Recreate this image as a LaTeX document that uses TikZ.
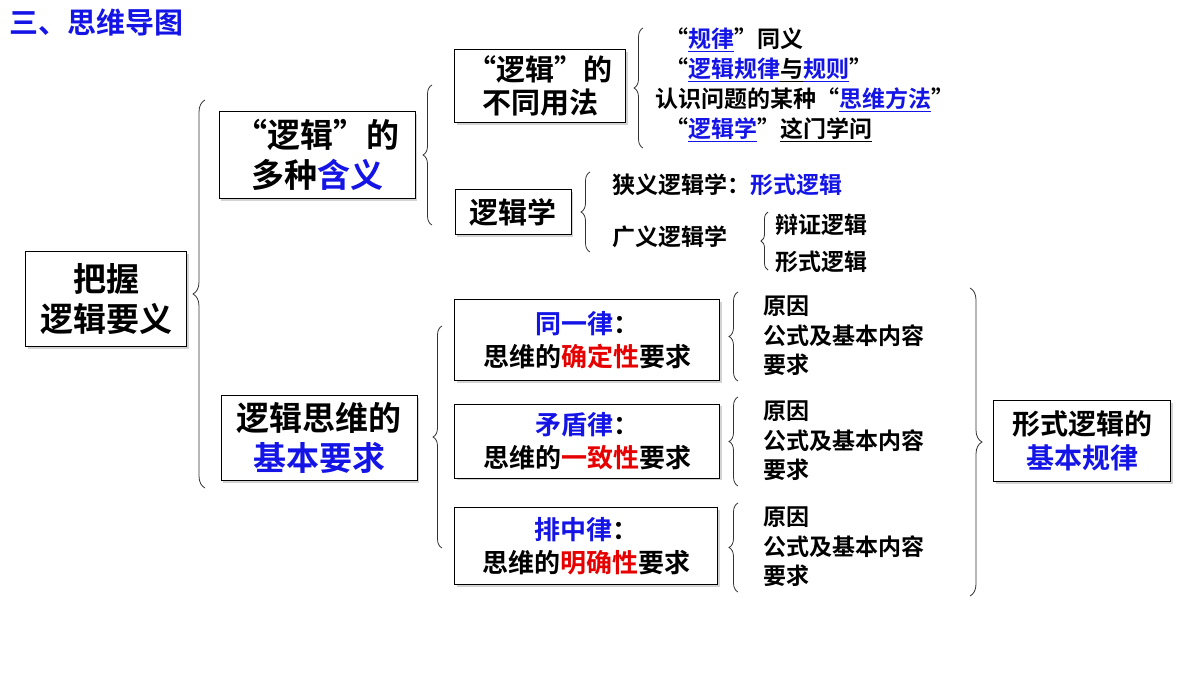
\documentclass[tikz,border=0pt]{standalone}
\usepackage{fontspec}
\setmainfont{Noto Sans CJK SC}[BoldFont={Noto Sans CJK SC Bold}]
\usetikzlibrary{decorations.pathreplacing,shadows}
\definecolor{tblue}{RGB}{20,20,230}
\definecolor{tred}{RGB}{230,0,0}
\newcommand{\bl}[1]{\textcolor{tblue}{#1}}
\newcommand{\rd}[1]{\textcolor{tred}{#1}}
\newcommand{\ul}[1]{\underline{#1}}
\tikzset{
  mapbox/.style={draw,thick,fill=white,align=center,font=\bfseries,inner sep=3pt,
    drop shadow={shadow xshift=2pt,shadow yshift=-2pt,opacity=.35}},
  leaf/.style={anchor=west,font=\bfseries\fontsize{23}{25}\selectfont,inner sep=0pt},
  lbrace/.style={decorate,decoration={brace,amplitude=#1},thick,black!80},
  lbrace/.default=9pt
}
\begin{document}
\begin{tikzpicture}[x=1pt,y=-1pt]
\useasboundingbox (0,0) rectangle (1200,675);

% title
\node[anchor=west,font=\bfseries\fontsize{29}{31}\selectfont,text=tblue] (title) at (6,22) {三、思维导图};

% root and level one
\node[mapbox,minimum width=161,minimum height=95,font=\bfseries\fontsize{33}{40}\selectfont] (root) at (106,299) {把握\\逻辑要义};
\node[mapbox,minimum width=196,minimum height=87,font=\bfseries\fontsize{33}{40}\selectfont] (mean) at (317,155) {“逻辑”的\\多种\bl{含义}};
\node[mapbox,minimum width=196,minimum height=85,font=\bfseries\fontsize{33}{40}\selectfont] (req) at (319,438) {逻辑思维的\\\bl{基本要求}};
\draw[lbrace=12pt] (205,488) -- (205,100);

% meanings
\node[mapbox,minimum width=171,minimum height=73,font=\bfseries\fontsize{29}{33}\selectfont] (use) at (540,86) {“逻辑”的\\不同用法};
\node[mapbox,minimum width=116,minimum height=45,font=\bfseries\fontsize{29}{33}\selectfont] (logic) at (513,212) {逻辑学};
\draw[lbrace] (432,225) -- (432,85);

\draw[lbrace] (643,148) -- (643,28);
\node[leaf] (u1) at (665,40) {“\bl{\ul{规律}}”同义};
\node[leaf] (u2) at (665,70) {“\bl{\ul{逻辑规律}}\ul{与}\bl{\ul{规则}}”};
\node[leaf] (u3) at (655,100) {认识问题的某种“\bl{\ul{思维方法}}”};
\node[leaf] (u4) at (665,130) {“\bl{\ul{逻辑学}}”\ul{这门学问}};

\draw[lbrace] (590,252) -- (590,172);
\node[leaf] (narrow) at (612,185) {狭义逻辑学：\bl{形式逻辑}};
\node[leaf] (broad) at (612,237) {广义逻辑学};
\draw[lbrace=7pt] (768,270) -- (768,212);
\node[leaf] (dial) at (775,225) {辩证逻辑};
\node[leaf] (form) at (775,262) {形式逻辑};

% laws
\draw[lbrace] (442,548) -- (442,326);
\node[mapbox,minimum width=265,minimum height=81,font=\bfseries\fontsize{26}{33}\selectfont] (law1) at (587,340) {\bl{同一律}：\\思维的\rd{确定性}要求};
\node[mapbox,minimum width=265,minimum height=74,font=\bfseries\fontsize{26}{33}\selectfont] (law2) at (587,441) {\bl{矛盾律}：\\思维的\rd{一致性}要求};
\node[mapbox,minimum width=263,minimum height=77,font=\bfseries\fontsize{26}{33}\selectfont] (law3) at (586,546) {\bl{排中律}：\\思维的\rd{明确性}要求};

\foreach \n/\t in {1/292,2/397,3/503}{
  \draw[lbrace] (738,\t+89) -- (738,\t);
  \node[leaf] (why\n) at (763,\t+14) {原因};
  \node[leaf] (fml\n) at (763,\t+44) {公式及基本内容};
  \node[leaf] (ask\n) at (763,\t+73) {要求};
}

\draw[lbrace=12pt] (970,288) -- (970,596);
\node[mapbox,minimum width=177,minimum height=81,font=\bfseries\fontsize{28}{34}\selectfont] (rule) at (1082,441) {形式逻辑的\\\bl{基本规律}};
\end{tikzpicture}
\end{document}
